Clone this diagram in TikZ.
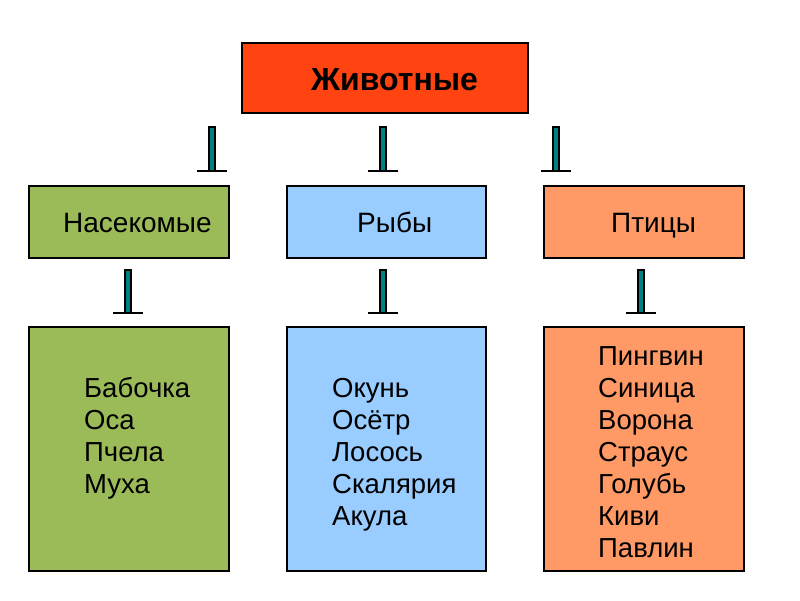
\documentclass[tikz,border=0pt]{standalone}
\usepackage{fontspec}
\setmainfont{Liberation Sans}
\definecolor{topred}{HTML}{FF4412}
\definecolor{insgreen}{HTML}{9BBB59}
\definecolor{fishblue}{HTML}{99CCFF}
\definecolor{birdorange}{HTML}{FF9966}
\definecolor{barteal}{HTML}{008080}
\begin{document}
\begin{tikzpicture}[x=1pt,y=-1pt,
  boxstyle/.style={draw=black,line width=1.5pt},
  lbl/.style={anchor=base west,inner sep=0pt,font=\fontsize{28}{32}\selectfont},
  itm/.style={anchor=base west,inner sep=0pt,font=\fontsize{27.5}{32}\selectfont},
  tbar/.style={draw=black,fill=barteal,line width=1.2pt},
  tfoot/.style={draw=black,line width=2.6pt}]
\fill[white] (0,0) rectangle (800,600);
\useasboundingbox (0,0) rectangle (800,600);
% boxes
\draw[boxstyle,fill=topred] (242,43) rectangle (528,113);
\draw[boxstyle,fill=insgreen] (29,186) rectangle (229,258);
\draw[boxstyle,fill=fishblue] (287,186) rectangle (486,258);
\draw[boxstyle,fill=birdorange] (544,186) rectangle (744,258);
\draw[boxstyle,fill=insgreen] (29,327) rectangle (229,571);
\draw[boxstyle,fill=fishblue] (287,327) rectangle (486,571);
\draw[boxstyle,fill=birdorange] (544,327) rectangle (744,571);
% T marks
\foreach \x/\t/\b in {212/127/171, 383/127/171, 556/127/171, 128/270/313, 383/270/313, 641/270/313}{
  \draw[tfoot] (\x-15,\b) -- (\x+15,\b);
  \draw[tbar] (\x-3,\t) rectangle (\x+3,\b);
}
% titles
\node[anchor=base west,inner sep=0pt,font=\fontsize{32}{36}\selectfont\bfseries] (ttl) at (311,90) {Животные};
\node[lbl] (l1) at (63,232) {Насекомые};
\node[lbl] (l2) at (357,232) {Рыбы};
\node[lbl] (l3) at (611,232) {Птицы};
% lists
\foreach \w [count=\i] in {Бабочка,Оса,Пчела,Муха}
  \node[itm] (a\i) at (84,365+32*\i) {\w};
\foreach \w [count=\i] in {Окунь,Осётр,Лосось,Скалярия,Акула}
  \node[itm] (b\i) at (332,365+32*\i) {\w};
\foreach \w [count=\i] in {Пингвин,Синица,Ворона,Страус,Голубь,Киви,Павлин}
  \node[itm] (c\i) at (598,333+32*\i) {\w};
\end{tikzpicture}
\end{document}
